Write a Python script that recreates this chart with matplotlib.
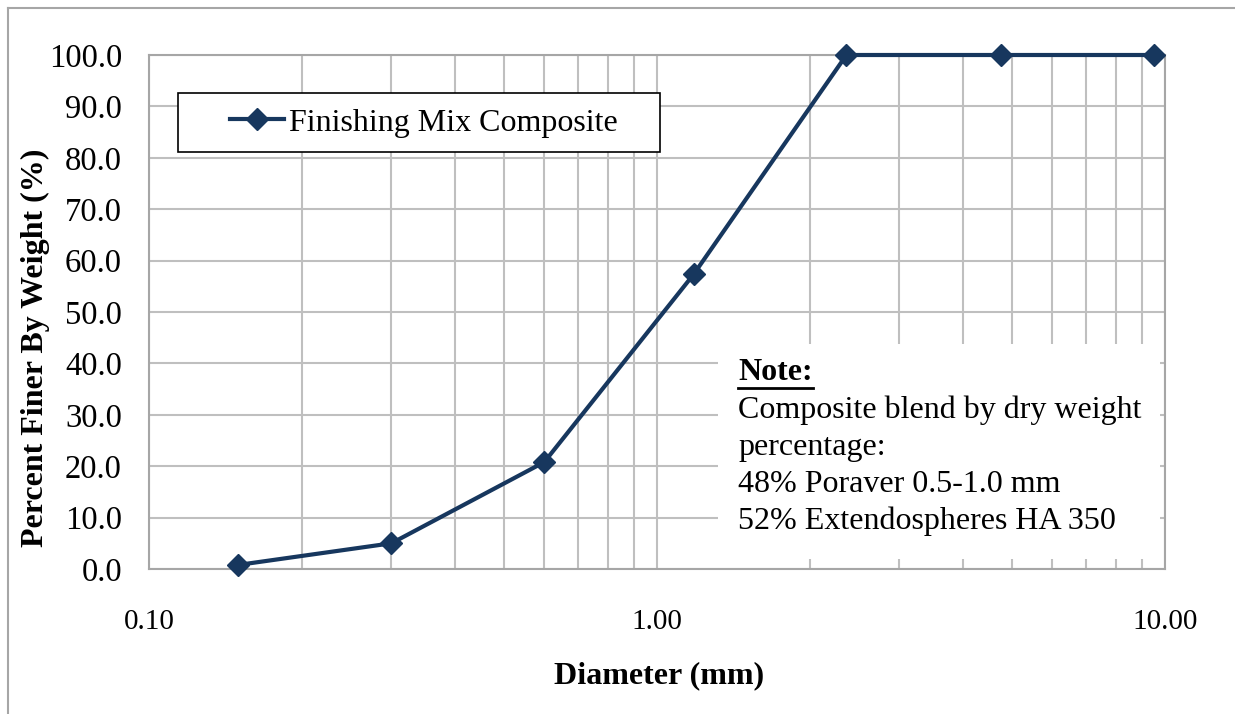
import matplotlib
matplotlib.use("Agg")
import matplotlib.pyplot as plt
from matplotlib.ticker import FixedLocator, LogLocator, NullFormatter, FuncFormatter
from matplotlib.lines import Line2D
from matplotlib.patches import Rectangle

# Data
diameter_mm = [0.15, 0.30, 0.60, 1.18, 2.36, 4.75, 9.50]
percent_finer = [0.8, 5.0, 20.8, 57.3, 100.0, 100.0, 100.0]
series_name = "Finishing Mix Composite"
y_ticks = [0, 10, 20, 30, 40, 50, 60, 70, 80, 90, 100]
x_ticks = [0.1, 1.0, 10.0]
x_label = "Diameter (mm)"
y_label = "Percent Finer By Weight (%)"
note_title = "Note:"
note_lines = ["Composite blend by dry weight", "percentage:",
              "48% Poraver 0.5-1.0 mm", "52% Extendospheres HA 350"]

W, H = 1235, 714
plt.rcParams['font.family'] = ['Liberation Serif', 'DejaVu Serif']
fig = plt.figure(figsize=(W / 100, H / 100), dpi=100)

def fx(px):
    return px / W

def fy(py):
    return 1 - py / H

ax = fig.add_axes([fx(149), fy(569), fx(1165) - fx(149), fy(55) - fy(569)])
line_color = '#17375E'
ax.plot(diameter_mm, percent_finer, color=line_color, lw=3, marker='D',
        markersize=11, label=series_name, zorder=5, clip_on=False)
ax.set_xscale('log')
ax.set_xlim(0.1, 10)
ax.set_ylim(0, 100)
ax.xaxis.set_major_locator(FixedLocator(x_ticks))
ax.xaxis.set_minor_locator(LogLocator(base=10, subs=range(2, 10)))
ax.xaxis.set_minor_formatter(NullFormatter())
ax.xaxis.set_major_formatter(FuncFormatter(lambda v, p: f"{v:.2f}"))
ax.yaxis.set_major_locator(FixedLocator(y_ticks))
ax.yaxis.set_major_formatter(FuncFormatter(lambda v, p: f"{v:.1f}"))
ax.grid(True, which='both', axis='x', color='#bfbfbf', lw=1.5)
ax.grid(True, which='major', axis='y', color='#bfbfbf', lw=1.5)
ax.set_axisbelow(True)
for s in ax.spines.values():
    s.set_color('#a6a6a6')
    s.set_linewidth(1.5)
ax.tick_params(axis='both', which='both', length=0)
ax.tick_params(axis='y', labelsize=23.5, pad=19.5)
ax.tick_params(axis='x', labelsize=21, pad=29)
ax.set_xlabel(x_label, fontsize=23, fontweight='bold')
ax.set_ylabel(y_label, fontsize=23, fontweight='bold')
ax.xaxis.set_label_coords(fx(659), fy(661), transform=fig.transFigure)
ax.yaxis.set_label_coords(fx(50), fy(348), transform=fig.transFigure)

# Legend: frame drawn as a rectangle, legend content placed inside
frame = Rectangle((fx(178), fy(152)), fx(660) - fx(178), fy(93) - fy(152),
                  transform=fig.transFigure, facecolor='white',
                  edgecolor='black', lw=1.2, zorder=4, clip_on=False)
ax.add_patch(frame)
leg = ax.legend(loc='center left', bbox_to_anchor=(fx(230), fy(123)),
                bbox_transform=fig.transFigure, fontsize=23, frameon=False,
                borderpad=0, handlelength=1.7, handletextpad=0.15,
                borderaxespad=0)
leg.set_zorder(6)

# Note box
fig.patches.append(Rectangle((fx(718), fy(559)), fx(1160) - fx(718),
                             fy(344) - fy(559), transform=fig.transFigure,
                             facecolor='white', edgecolor='none', zorder=3))
t = fig.text(fx(738), fy(373), note_title, fontsize=23, fontweight='bold',
             va='center', ha='left', zorder=4)
fig.canvas.draw()
bb = t.get_window_extent()
fig.add_artist(Line2D([bb.x0 / W, bb.x1 / W], [fy(388), fy(388)],
                      transform=fig.transFigure, color='black', lw=2, zorder=4))
for i, s in enumerate(note_lines):
    fig.text(fx(738), fy(410 + i * 37), s, fontsize=23, va='center',
             ha='left', zorder=4)

# Outer chart border (left, top)
for xs, ys in [([8, 8], [H + 5, 8]), ([8, W + 5], [8, 8])]:
    fig.add_artist(Line2D([fx(v) for v in xs], [fy(v) for v in ys],
                          transform=fig.transFigure, color='#a6a6a6', lw=1.5))

fig.savefig('out.png', dpi=100, facecolor='white')
